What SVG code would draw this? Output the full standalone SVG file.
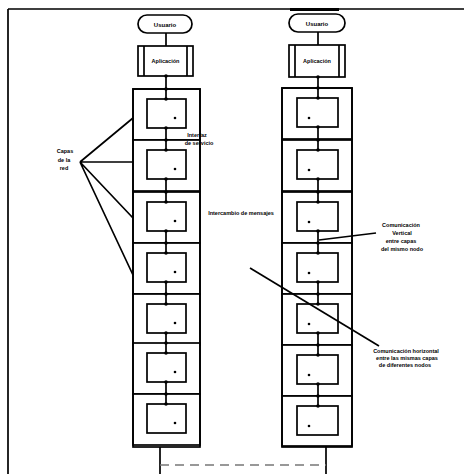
<svg xmlns="http://www.w3.org/2000/svg" width="464" height="474" viewBox="0 0 464 474">
<style>
.s{fill:none;stroke:#000;stroke-width:1.7}
.b{fill:#fff;stroke:#000;stroke-width:1.7}
.t{font-family:"Liberation Sans",Arial,sans-serif;font-weight:bold;fill:#000;text-anchor:middle}
.d{fill:#000}
</style>
<defs>
<g id="layerL"><rect class="b" x="133" y="0" width="67" height="51"/><rect class="b" x="147" y="10" width="39" height="29"/><circle class="d" cx="175" cy="29" r="1.3"/></g>
<g id="layerR"><rect class="b" x="282" y="0" width="70" height="51"/><rect class="b" x="297" y="10" width="41" height="29"/><circle class="d" cx="309" cy="30" r="1.3"/></g>
</defs>
<rect width="464" height="474" fill="#fff"/>
<g id="frame">
<path class="s" d="M8,9 H464 M8,9 V474"/>
<path stroke="#000" stroke-width="3" d="M290,9.5 H339"/>
</g>
<g id="left-user"><rect class="b" x="138" y="15" width="54" height="18" rx="9"/><text class="t" x="165" y="26.5" font-size="6">Usuario</text></g>
<g id="left-app"><rect class="b" x="138" y="46" width="55" height="30"/><path class="s" d="M144,46 V76 M187,46 V76"/><text class="t" x="165.5" y="63" font-size="5.5">Aplicación</text></g>
<g id="left-stack">
<use href="#layerL" y="89"/><use href="#layerL" y="140"/><use href="#layerL" y="192"/><use href="#layerL" y="243"/><use href="#layerL" y="294"/><use href="#layerL" y="343"/><use href="#layerL" y="394"/>
<rect class="s" x="133" y="89" width="67" height="358"/>
</g>
<g id="right-user"><rect class="b" x="289" y="14" width="56" height="18" rx="9"/><text class="t" x="317" y="25.5" font-size="6">Usuario</text></g>
<g id="right-app"><rect class="b" x="289" y="45" width="56" height="32"/><path class="s" d="M295,45 V77 M339,45 V77"/><text class="t" x="317" y="63" font-size="5.5">Aplicación</text></g>
<g id="right-stack">
<use href="#layerR" y="88"/><use href="#layerR" y="140"/><use href="#layerR" y="192"/><use href="#layerR" y="243"/><use href="#layerR" y="294"/><use href="#layerR" y="345"/><use href="#layerR" y="396"/>
<rect class="s" x="282" y="88" width="70" height="358"/>
</g>
<g id="connectors">
<path class="s" d="M166,33 V46 M166,76 V99 M166,128 V150 M166,179 V202 M166,231 V253 M166,282 V304 M166,333 V353 M166,382 V404 M160,447 V474"/>
<path class="s" d="M318,32 V45 M318,77 V98 M318,127 V150 M318,179 V202 M318,231 V253 M318,282 V304 M318,333 V355 M318,384 V406 M326,446 V474"/>
<path fill="none" stroke="#777" stroke-width="1.5" stroke-dasharray="9 6" d="M160,465 H326"/>
<g class="d">
<circle cx="166" cy="76" r="1.8"/><circle cx="166" cy="89" r="1.8"/><circle cx="166" cy="99" r="1.8"/><circle cx="166" cy="128" r="1.8"/><circle cx="166" cy="140" r="1.8"/><circle cx="166" cy="150" r="1.8"/><circle cx="166" cy="179" r="1.8"/><circle cx="166" cy="192" r="1.8"/><circle cx="166" cy="202" r="1.8"/><circle cx="166" cy="231" r="1.8"/><circle cx="166" cy="243" r="1.8"/><circle cx="166" cy="253" r="1.8"/><circle cx="166" cy="282" r="1.8"/><circle cx="166" cy="294" r="1.8"/><circle cx="166" cy="304" r="1.8"/><circle cx="166" cy="333" r="1.8"/><circle cx="166" cy="343" r="1.8"/><circle cx="166" cy="353" r="1.8"/><circle cx="166" cy="382" r="1.8"/><circle cx="166" cy="394" r="1.8"/><circle cx="166" cy="404" r="1.8"/>
<circle cx="318" cy="77" r="1.8"/><circle cx="318" cy="88" r="1.8"/><circle cx="318" cy="98" r="1.8"/><circle cx="318" cy="127" r="1.8"/><circle cx="318" cy="140" r="1.8"/><circle cx="318" cy="150" r="1.8"/><circle cx="318" cy="179" r="1.8"/><circle cx="318" cy="192" r="1.8"/><circle cx="318" cy="202" r="1.8"/><circle cx="318" cy="231" r="1.8"/><circle cx="318" cy="243" r="1.8"/><circle cx="318" cy="253" r="1.8"/><circle cx="318" cy="282" r="1.8"/><circle cx="318" cy="294" r="1.8"/><circle cx="318" cy="304" r="1.8"/><circle cx="318" cy="333" r="1.8"/><circle cx="318" cy="345" r="1.8"/><circle cx="318" cy="355" r="1.8"/><circle cx="318" cy="384" r="1.8"/><circle cx="318" cy="396" r="1.8"/><circle cx="318" cy="406" r="1.8"/>
</g>
<path class="s" d="M80,162 L133,118 M80,162 L133,162 M80,162 L133,218 M80,162 L133,275"/>
<path class="s" d="M319,240 L376,233"/>
<path class="s" d="M250,268 L379,346"/>
</g>
<g id="labels">
<text class="t" font-size="5.5"><tspan x="65" y="153">Capas</tspan><tspan x="64" y="162">de la</tspan><tspan x="64" y="170">red</tspan></text>
<text class="t" font-size="5.5"><tspan x="197" y="137">Interfaz</tspan><tspan x="199" y="145">de servicio</tspan></text>
<text class="t" font-size="5.5" x="241" y="215">Intercambio de mensajes</text>
<text class="t" font-size="5.5"><tspan x="401" y="227">Comunicación</tspan><tspan x="402" y="235">Vertical</tspan><tspan x="401" y="243">entre capas</tspan><tspan x="402" y="251">del mismo nodo</tspan></text>
<text class="t" font-size="5.5"><tspan x="406" y="353">Comunicación horizontal</tspan><tspan x="407" y="360">entre las mismas capas</tspan><tspan x="405" y="367">de diferentes nodos</tspan></text>
</g>
</svg>
